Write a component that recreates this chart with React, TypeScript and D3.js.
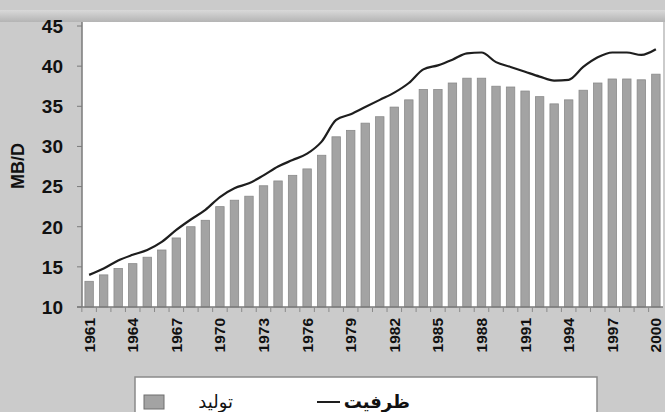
import React, { createRef } from 'react';
import { select, scaleBand, scaleLinear, line, curveMonotoneX } from 'd3';

const WIDTH = 665;
const HEIGHT = 412;
const MARGIN = { TOP: 26, BOTTOM: 105, LEFT: 82, RIGHT: 2 };

const years = [
  '1961', '1962', '1963', '1964', '1965', '1966', '1967', '1968', '1969', '1970',
  '1971', '1972', '1973', '1974', '1975', '1976', '1977', '1978', '1979', '1980',
  '1981', '1982', '1983', '1984', '1985', '1986', '1987', '1988', '1989', '1990',
  '1991', '1992', '1993', '1994', '1995', '1996', '1997', '1998', '1999', '2000',
];
// تولید (bars)
const production = [
  13.2, 14.0, 14.8, 15.4, 16.2, 17.1, 18.6, 20.0, 20.8, 22.5,
  23.3, 23.8, 25.1, 25.7, 26.4, 27.2, 28.9, 31.2, 32.0, 32.9,
  33.7, 34.9, 35.8, 37.1, 37.1, 37.9, 38.5, 38.5, 37.5, 37.4,
  36.9, 36.2, 35.3, 35.8, 37.0, 37.9, 38.4, 38.4, 38.3, 39.0,
];
// ظرفیت (line)
const capacity = [
  14.0, 14.8, 15.8, 16.5, 17.1, 18.1, 19.6, 20.9, 22.1, 23.7,
  24.8, 25.4, 26.4, 27.5, 28.3, 29.1, 30.6, 33.3, 34.0, 34.9,
  35.8, 36.7, 37.9, 39.6, 40.1, 40.8, 41.6, 41.7, 40.5, 39.9,
  39.3, 38.7, 38.2, 38.3, 39.9, 41.1, 41.7, 41.7, 41.4, 42.1,
];
const yTicks = [10, 15, 20, 25, 30, 35, 40, 45];
const xTickLabels = ['1961', '1964', '1967', '1970', '1973', '1976', '1979', '1982', '1985', '1988', '1991', '1994', '1997', '2000'];
const legendLabels = { bars: 'تولید', line: 'ظرفیت' };
const yTitle = 'MB/D';

const svgRef = createRef<SVGSVGElement>();

export default class App extends React.Component {
  componentDidMount(): void {
    const svg = select(svgRef.current);
    svg.selectAll('*').remove();

    const plotRight = WIDTH - MARGIN.RIGHT;
    const plotBottom = HEIGHT - MARGIN.BOTTOM;

    const x = scaleBand<string>().domain(years).range([MARGIN.LEFT, plotRight]).paddingInner(0.42).paddingOuter(0.2);
    const y = scaleLinear().domain([10, 45]).range([plotBottom, MARGIN.TOP]);

    // background
    svg.append('rect').attr('width', WIDTH).attr('height', HEIGHT).attr('fill', '#cbcbcb');
    const grad = svg.append('defs').append('linearGradient').attr('id', 'topband').attr('x1', 0).attr('x2', 0).attr('y1', 0).attr('y2', 1);
    grad.append('stop').attr('offset', '0%').attr('stop-color', '#d9d9d9');
    grad.append('stop').attr('offset', '100%').attr('stop-color', '#b4b4b4');
    svg.append('rect').attr('x', 0).attr('y', 10).attr('width', WIDTH).attr('height', 12).attr('fill', 'url(#topband)');

    // plot area
    svg
      .append('rect')
      .attr('x', MARGIN.LEFT)
      .attr('y', MARGIN.TOP - 4)
      .attr('width', plotRight - MARGIN.LEFT)
      .attr('height', plotBottom - MARGIN.TOP + 4)
      .attr('fill', '#ffffff');

    // bars
    svg
      .append('g')
      .selectAll('rect')
      .data(production)
      .enter()
      .append('rect')
      .attr('x', (_d, i) => x(years[i]) as number)
      .attr('y', (d) => y(d))
      .attr('width', x.bandwidth())
      .attr('height', (d) => plotBottom - y(d))
      .attr('fill', '#a3a3a3')
      .attr('stroke', '#8a8a8a')
      .attr('stroke-width', 0.8);

    // capacity line
    const lineGen = line<number>()
      .x((_d, i) => (x(years[i]) as number) + x.bandwidth() / 2)
      .y((d) => y(d))
      .curve(curveMonotoneX);
    svg
      .append('path')
      .datum(capacity)
      .attr('d', lineGen)
      .attr('fill', 'none')
      .attr('stroke', '#1e1e1e')
      .attr('stroke-width', 2.2);

    // axes
    svg.append('line').attr('x1', MARGIN.LEFT).attr('x2', MARGIN.LEFT).attr('y1', MARGIN.TOP - 4).attr('y2', plotBottom).attr('stroke', '#7a7a7a').attr('stroke-width', 1.5);
    svg.append('line').attr('x1', MARGIN.LEFT - 5).attr('x2', plotRight).attr('y1', plotBottom).attr('y2', plotBottom).attr('stroke', '#7a7a7a').attr('stroke-width', 1.5);

    const yAxisG = svg.append('g');
    yTicks.forEach((t) => {
      yAxisG.append('line').attr('x1', MARGIN.LEFT - 5).attr('x2', MARGIN.LEFT).attr('y1', y(t)).attr('y2', y(t)).attr('stroke', '#7a7a7a');
      yAxisG
        .append('text')
        .attr('x', MARGIN.LEFT - 19)
        .attr('y', y(t))
        .attr('dy', '0.36em')
        .attr('text-anchor', 'end')
        .attr('font-family', 'Liberation Sans, Arial, sans-serif')
        .attr('font-weight', 'bold')
        .attr('font-size', 19)
        .attr('fill', '#111')
        .text(t);
    });

    // x ticks between categories
    const step = x.step();
    years.forEach((yr) => {
      const bx = (x(yr) as number) - (step - x.bandwidth()) / 2;
      svg.append('line').attr('x1', bx).attr('x2', bx).attr('y1', plotBottom).attr('y2', plotBottom + 5).attr('stroke', '#8a8a8a');
    });

    xTickLabels.forEach((lbl) => {
      const cx = (x(lbl) as number) + x.bandwidth() / 2;
      svg
        .append('text')
        .attr('transform', `translate(${cx + 5.5},${plotBottom + 11}) rotate(-90)`)
        .attr('text-anchor', 'end')
        .attr('font-family', 'Liberation Sans, Arial, sans-serif')
        .attr('font-weight', 'bold')
        .attr('font-size', 15.5)
        .attr('fill', '#111')
        .text(lbl);
    });

    // y title
    svg
      .append('text')
      .attr('transform', 'translate(24,166) rotate(-90)')
      .attr('text-anchor', 'middle')
      .attr('font-family', 'Liberation Sans, Arial, sans-serif')
      .attr('font-weight', 'bold')
      .attr('font-size', 18)
      .attr('fill', '#111')
      .text(yTitle);

    // legend
    const lg = svg.append('g');
    lg.append('rect').attr('x', 135).attr('y', 377).attr('width', 462).attr('height', 50).attr('fill', '#ffffff').attr('stroke', '#8a8a8a').attr('stroke-width', 1.5);
    lg.append('rect').attr('x', 144).attr('y', 395).attr('width', 20).attr('height', 14).attr('fill', '#a3a3a3').attr('stroke', '#6e6e6e');
    lg.append('text')
      .attr('x', 233)
      .attr('y', 408)
      .attr('text-anchor', 'end')
      .attr('font-family', 'DejaVu Sans, sans-serif')
      .attr('font-size', 18)
      .attr('fill', '#111')
      .text(legendLabels.bars);
    lg.append('line').attr('x1', 317).attr('x2', 340).attr('y1', 402).attr('y2', 402).attr('stroke', '#1e1e1e').attr('stroke-width', 2);
    lg.append('text')
      .attr('x', 410)
      .attr('y', 408)
      .attr('text-anchor', 'end')
      .attr('font-family', 'DejaVu Sans, sans-serif')
      .attr('font-weight', 'bold')
      .attr('font-size', 18)
      .attr('fill', '#111')
      .text(legendLabels.line);
  }

  render(): JSX.Element {
    return (
      <svg
        ref={svgRef}
        width={WIDTH}
        height={HEIGHT}
        style={{ position: 'absolute', left: 0, top: 0, display: 'block' }}
      />
    );
  }
}
